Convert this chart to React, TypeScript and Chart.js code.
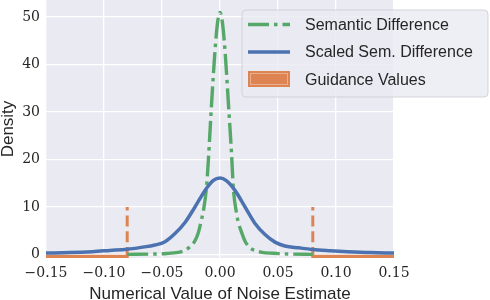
import React, { useEffect, useRef } from "react";
import { Chart, registerables } from "chart.js";

Chart.register(...registerables);

// ---- data ----
const semanticX = [
  -0.08, -0.06, -0.046, -0.036, -0.031, -0.026, -0.022, -0.0187, -0.0158, -0.0143, -0.0115, -0.01, -0.0072, -0.0043, -0.002, 0,
  0.002, 0.0043, 0.0072, 0.01, 0.0115, 0.0143, 0.0158, 0.0187, 0.0216, 0.026, 0.0316, 0.036, 0.046, 0.06, 0.08,
];
const semanticY = [
  0.02, 0.08, 0.2, 0.45, 0.8, 1.6, 2.7, 4.6, 7.5, 9.2, 14.5, 20, 32, 43, 49, 51,
  49, 43, 32, 21, 14, 8.6, 6.8, 4.6, 2.8, 1.4, 0.75, 0.45, 0.25, 0.1, 0.03,
];
const scaledX = [
  -0.15, -0.13, -0.11, -0.095, -0.08, -0.068, -0.056, -0.0474, -0.0388, -0.03, -0.0216, -0.0129, -0.0057, 0,
  0.0057, 0.0129, 0.0216, 0.03, 0.0388, 0.0474, 0.056, 0.068, 0.08, 0.095, 0.11, 0.13, 0.15,
];
const scaledY = [
  0.3, 0.4, 0.6, 0.85, 1.1, 1.5, 2.0, 2.7, 4.4, 6.8, 10.0, 13.5, 15.6, 16.1,
  15.5, 13.5, 10.0, 6.6, 4.2, 2.6, 1.8, 1.4, 1.05, 0.8, 0.6, 0.4, 0.3,
];
const guidanceThresholds = [-0.08, 0.08];
const guidanceMarkerTop = 10;
const guidanceBaseY = -0.4;
const xRange = [-0.15, 0.15];
const yRange = [-0.74, 53.6];
const xTickStep = 0.05;
const yTickStep = 10;

const seriesLabels = ["Semantic Difference", "Scaled Sem. Difference", "Guidance Values"];

const GREEN = "#55A868";
const BLUE = "#4C72B0";
const ORANGE = "#DD8452";
const BG = "#EAEAF2";
const TEXT = "#262626";
const SERIF = "'DejaVu Serif', serif";
const SANS = "'Liberation Sans', Arial, sans-serif";
const GREEN_DASH = [21, 5, 3.5, 5];
const ORANGE_DASH = [11, 4.8];

const toPts = (xs: number[], ys: number[]) => xs.map((x, i) => ({ x, y: ys[i] }));

const bgPlugin = {
  id: "bgPlugin",
  beforeDraw(chart: any) {
    const { ctx, chartArea } = chart;
    ctx.save();
    ctx.fillStyle = BG;
    ctx.fillRect(chartArea.left, chartArea.top, chartArea.right - chartArea.left, chartArea.bottom - chartArea.top);
    ctx.restore();
  },
};

const legendPlugin = {
  id: "customLegend",
  afterDraw(chart: any) {
    const ctx = chart.ctx;
    ctx.save();
    const bx = 242, by = 10, bw = 246, bh = 87, r = 4;
    ctx.beginPath();
    ctx.moveTo(bx + r, by);
    ctx.arcTo(bx + bw, by, bx + bw, by + bh, r);
    ctx.arcTo(bx + bw, by + bh, bx, by + bh, r);
    ctx.arcTo(bx, by + bh, bx, by, r);
    ctx.arcTo(bx, by, bx + bw, by, r);
    ctx.closePath();
    ctx.fillStyle = "rgba(234,234,242,0.8)";
    ctx.fill();
    ctx.strokeStyle = "rgba(204,204,210,0.8)";
    ctx.lineWidth = 1;
    ctx.stroke();

    const hx0 = 248, hx1 = 290;
    ctx.beginPath();
    ctx.setLineDash(GREEN_DASH);
    ctx.strokeStyle = GREEN;
    ctx.lineWidth = 3.4;
    ctx.moveTo(hx0, 24.5);
    ctx.lineTo(hx1, 24.5);
    ctx.stroke();
    ctx.beginPath();
    ctx.setLineDash([]);
    ctx.strokeStyle = BLUE;
    ctx.lineWidth = 3.5;
    ctx.moveTo(hx0, 52);
    ctx.lineTo(hx1, 52);
    ctx.stroke();
    ctx.fillStyle = ORANGE;
    ctx.fillRect(hx0, 71, hx1 - hx0, 16);
    ctx.strokeStyle = "rgba(255,255,255,0.35)";
    ctx.lineWidth = 1;
    ctx.strokeRect(hx0 + 2.5, 73.5, hx1 - hx0 - 5, 11);

    ctx.fillStyle = TEXT;
    ctx.font = `16px ${SANS}`;
    ctx.textBaseline = "alphabetic";
    ctx.textAlign = "left";
    ctx.fillText(seriesLabels[0], 305, 30);
    ctx.fillText(seriesLabels[1], 305, 57.3);
    ctx.fillText(seriesLabels[2], 305, 84.5);
    ctx.restore();
  },
};

function fmtX(v: number) {
  if (Math.abs(v) < 1e-9) return "0.00";
  const s = v.toFixed(2);
  return s.replace("-", "\u2212");
}

export default function App() {
  const ref = useRef<HTMLCanvasElement | null>(null);
  useEffect(() => {
    if (!ref.current) return;
    const chart = new Chart(ref.current, {
      type: "line",
      data: {
        datasets: [
          {
            label: seriesLabels[1],
            data: toPts(scaledX, scaledY),
            borderColor: BLUE,
            borderWidth: 3.5,
            pointRadius: 0,
            cubicInterpolationMode: "monotone",
            fill: false,
            order: 1,
          },
          {
            label: seriesLabels[0],
            data: toPts(semanticX, semanticY),
            borderColor: GREEN,
            borderWidth: 3.4,
            borderDash: GREEN_DASH,
            borderCapStyle: "butt",
            pointRadius: 0,
            cubicInterpolationMode: "monotone",
            fill: false,
            order: 2,
          },
          {
            label: seriesLabels[2],
            data: [
              { x: xRange[0], y: guidanceBaseY },
              { x: guidanceThresholds[0], y: guidanceBaseY },
            ],
            borderColor: ORANGE,
            borderWidth: 3.5,
            pointRadius: 0,
            order: 3,
          },
          {
            label: seriesLabels[2] + " (right)",
            data: [
              { x: guidanceThresholds[1], y: guidanceBaseY },
              { x: xRange[1], y: guidanceBaseY },
            ],
            borderColor: ORANGE,
            borderWidth: 3.5,
            pointRadius: 0,
            order: 3,
          },
          {
            label: seriesLabels[2] + " marker L",
            data: [
              { x: guidanceThresholds[0], y: yRange[0] },
              { x: guidanceThresholds[0], y: guidanceMarkerTop },
            ],
            borderColor: ORANGE,
            borderWidth: 3,
            borderDash: ORANGE_DASH,
            pointRadius: 0,
            order: 3,
          },
          {
            label: seriesLabels[2] + " marker R",
            data: [
              { x: guidanceThresholds[1], y: yRange[0] },
              { x: guidanceThresholds[1], y: guidanceMarkerTop },
            ],
            borderColor: ORANGE,
            borderWidth: 3,
            borderDash: ORANGE_DASH,
            pointRadius: 0,
            order: 3,
          },
        ],
      },
      options: {
        responsive: false,
        animation: false,
        events: [],
        layout: { padding: { left: 0, top: 0, right: 96, bottom: 0 } },
        plugins: { legend: { display: false }, tooltip: { enabled: false } },
        scales: {
          x: {
            type: "linear",
            min: xRange[0],
            max: xRange[1],
            border: { display: false },
            grid: { color: "#FFFFFF", lineWidth: 1.3, drawTicks: false },
            ticks: {
              stepSize: xTickStep,
              includeBounds: false,
              padding: 7,
              color: TEXT,
              font: { family: SERIF, size: 14 },
              maxRotation: 0,
              autoSkip: false,
              callback: (v: any) => fmtX(Number(v)),
            },
            title: {
              display: true,
              text: "Numerical Value of Noise Estimate",
              color: TEXT,
              font: { family: SANS, size: 17, lineHeight: 1 },
              padding: { top: 0, bottom: -2.5 },
            },
            afterFit: (s: any) => {
              s.height = 42;
              s.paddingLeft = 0;
              s.paddingRight = 0;
            },
          },
          y: {
            type: "linear",
            min: yRange[0],
            max: yRange[1],
            border: { display: false },
            grid: { color: "#FFFFFF", lineWidth: 1.3, drawTicks: false },
            ticks: {
              stepSize: yTickStep,
              includeBounds: false,
              padding: 6,
              color: TEXT,
              font: { family: SERIF, size: 14 },
              callback: (v: any) => String(Math.round(Number(v))),
            },
            title: {
              display: true,
              text: "Density",
              color: TEXT,
              font: { family: SANS, size: 17, lineHeight: 1 },
              padding: { top: 0, bottom: 0 },
            },
            afterFit: (s: any) => {
              s.width = 46;
              s.paddingTop = 0;
              s.paddingBottom = 0;
            },
          },
        },
      } as any,
      plugins: [bgPlugin, legendPlugin],
    });
    return () => chart.destroy();
  }, []);

  return (
    <div style={{ position: "fixed", left: 0, top: 0, width: 490, height: 300, background: "#fff" }}>
      <canvas ref={ref} width={490} height={300} style={{ display: "block" }} />
    </div>
  );
}
